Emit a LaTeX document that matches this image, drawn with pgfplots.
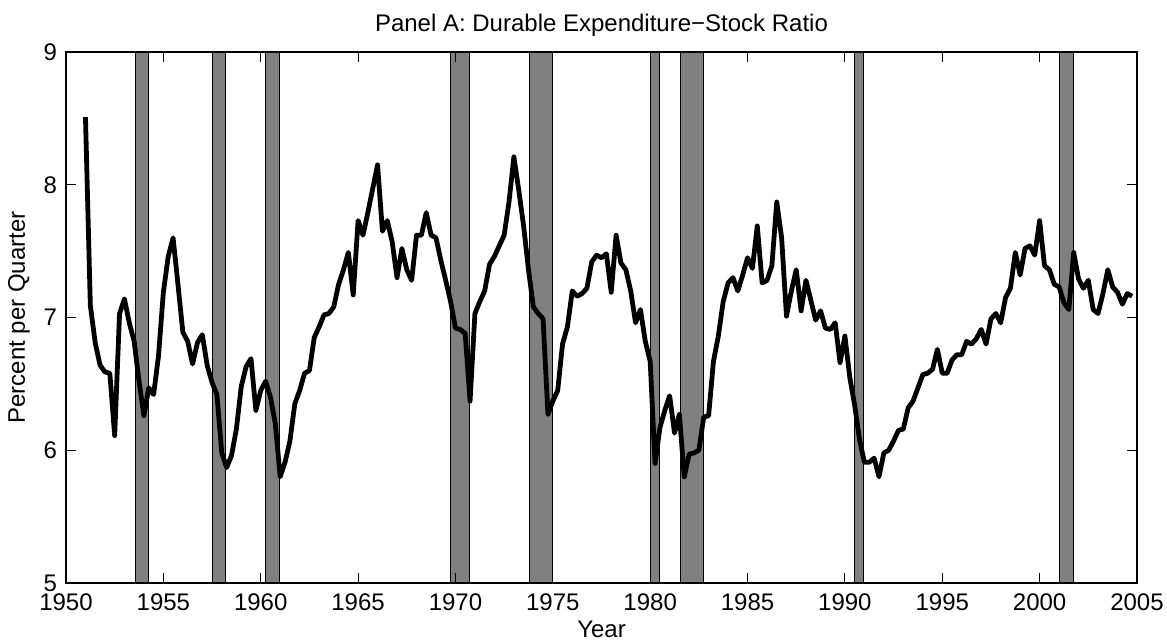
\documentclass[border=0pt]{standalone}
\usepackage{fontspec}
\setmainfont{Liberation Sans}
\usepackage{pgfplots}
\pgfplotsset{compat=1.18}
\pgfplotstableread{
year val
1951.00 8.51
1951.25 7.09
1951.50 6.81
1951.75 6.64
1952.00 6.59
1952.25 6.58
1952.50 6.11
1952.75 7.03
1953.00 7.14
1953.25 6.96
1953.50 6.82
1953.75 6.52
1954.00 6.26
1954.25 6.47
1954.50 6.42
1954.75 6.71
1955.00 7.19
1955.25 7.46
1955.50 7.60
1955.75 7.25
1956.00 6.89
1956.25 6.82
1956.50 6.65
1956.75 6.81
1957.00 6.87
1957.25 6.64
1957.50 6.51
1957.75 6.42
1958.00 5.98
1958.25 5.87
1958.50 5.96
1958.75 6.16
1959.00 6.48
1959.25 6.63
1959.50 6.69
1959.75 6.30
1960.00 6.45
1960.25 6.52
1960.50 6.40
1960.75 6.20
1961.00 5.80
1961.25 5.91
1961.50 6.07
1961.75 6.35
1962.00 6.45
1962.25 6.58
1962.50 6.60
1962.75 6.85
1963.00 6.93
1963.25 7.02
1963.50 7.03
1963.75 7.08
1964.00 7.25
1964.25 7.36
1964.50 7.49
1964.75 7.17
1965.00 7.73
1965.25 7.62
1965.50 7.79
1965.75 7.97
1966.00 8.15
1966.25 7.65
1966.50 7.73
1966.75 7.57
1967.00 7.30
1967.25 7.52
1967.50 7.36
1967.75 7.28
1968.00 7.62
1968.25 7.62
1968.50 7.79
1968.75 7.62
1969.00 7.60
1969.25 7.43
1969.50 7.28
1969.75 7.12
1970.00 6.92
1970.25 6.91
1970.50 6.88
1970.75 6.37
1971.00 7.03
1971.25 7.12
1971.50 7.20
1971.75 7.40
1972.00 7.46
1972.25 7.54
1972.50 7.62
1972.75 7.87
1973.00 8.21
1973.25 7.96
1973.50 7.69
1973.75 7.36
1974.00 7.08
1974.25 7.03
1974.50 6.99
1974.75 6.27
1975.00 6.37
1975.25 6.45
1975.50 6.80
1975.75 6.93
1976.00 7.20
1976.25 7.16
1976.50 7.18
1976.75 7.22
1977.00 7.42
1977.25 7.47
1977.50 7.45
1977.75 7.48
1978.00 7.19
1978.25 7.62
1978.50 7.41
1978.75 7.36
1979.00 7.20
1979.25 6.96
1979.50 7.06
1979.75 6.82
1980.00 6.67
1980.25 5.90
1980.50 6.17
1980.75 6.30
1981.00 6.41
1981.25 6.13
1981.50 6.27
1981.75 5.80
1982.00 5.97
1982.25 5.98
1982.50 6.00
1982.75 6.25
1983.00 6.26
1983.25 6.67
1983.50 6.86
1983.75 7.12
1984.00 7.26
1984.25 7.30
1984.50 7.20
1984.75 7.32
1985.00 7.45
1985.25 7.37
1985.50 7.69
1985.75 7.26
1986.00 7.28
1986.25 7.39
1986.50 7.87
1986.75 7.60
1987.00 7.01
1987.25 7.20
1987.50 7.36
1987.75 7.05
1988.00 7.28
1988.25 7.13
1988.50 6.98
1988.75 7.05
1989.00 6.92
1989.25 6.91
1989.50 6.96
1989.75 6.66
1990.00 6.86
1990.25 6.55
1990.50 6.34
1990.75 6.08
1991.00 5.91
1991.25 5.91
1991.50 5.94
1991.75 5.80
1992.00 5.98
1992.25 6.00
1992.50 6.07
1992.75 6.15
1993.00 6.16
1993.25 6.32
1993.50 6.37
1993.75 6.47
1994.00 6.57
1994.25 6.58
1994.50 6.61
1994.75 6.76
1995.00 6.58
1995.25 6.58
1995.50 6.68
1995.75 6.72
1996.00 6.72
1996.25 6.82
1996.50 6.80
1996.75 6.84
1997.00 6.91
1997.25 6.80
1997.50 6.99
1997.75 7.03
1998.00 6.96
1998.25 7.15
1998.50 7.22
1998.75 7.49
1999.00 7.32
1999.25 7.52
1999.50 7.54
1999.75 7.47
2000.00 7.73
2000.25 7.39
2000.50 7.36
2000.75 7.25
2001.00 7.23
2001.25 7.11
2001.50 7.06
2001.75 7.49
2002.00 7.29
2002.25 7.22
2002.50 7.28
2002.75 7.06
2003.00 7.03
2003.25 7.18
2003.50 7.36
2003.75 7.23
2004.00 7.19
2004.25 7.10
2004.50 7.18
2004.75 7.16
}\ratio
\begin{document}
\begin{tikzpicture}
\begin{axis}[
  scale only axis,
  width=535.5pt, height=265.5pt,
  xmin=1950, xmax=2005, ymin=5, ymax=9,
  xtick={1950,1955,...,2005},
  ytick={5,6,7,8,9},
  xticklabel style={/pgf/number format/1000 sep={}, yshift=-2pt},
  yticklabel style={xshift=-1pt},
  /pgf/number format/assume math mode=true,
  tick align=inside,
  major tick length=5pt,
  tick style={black, line width=0.5pt},
  axis line style={black, line width=0.6pt},
  axis on top,
  font=\fontsize{12}{14}\selectfont,
  title={Panel A: Durable Expenditure−Stock Ratio},
  title style={at={(0.5,1)}, anchor=south, yshift=-2pt},
  xlabel={Year},
  ylabel={Percent per Quarter},
  xlabel style={yshift=2pt},
  ylabel style={yshift=0pt},
]
\coordinate (bl) at (rel axis cs:0,0);
\coordinate (tr) at (rel axis cs:1,1);
\addplot [fill=gray, draw=black, line width=0.4pt] coordinates {(1953.54,5) (1953.54,9) (1954.22,9) (1954.22,5)} -- cycle;
\addplot [fill=gray, draw=black, line width=0.4pt] coordinates {(1957.52,5) (1957.52,9) (1958.20,9) (1958.20,5)} -- cycle;
\addplot [fill=gray, draw=black, line width=0.4pt] coordinates {(1960.26,5) (1960.26,9) (1960.97,9) (1960.97,5)} -- cycle;
\addplot [fill=gray, draw=black, line width=0.4pt] coordinates {(1969.76,5) (1969.76,9) (1970.70,9) (1970.70,5)} -- cycle;
\addplot [fill=gray, draw=black, line width=0.4pt] coordinates {(1973.78,5) (1973.78,9) (1974.97,9) (1974.97,5)} -- cycle;
\addplot [fill=gray, draw=black, line width=0.4pt] coordinates {(1980.00,5) (1980.00,9) (1980.45,9) (1980.45,5)} -- cycle;
\addplot [fill=gray, draw=black, line width=0.4pt] coordinates {(1981.54,5) (1981.54,9) (1982.72,9) (1982.72,5)} -- cycle;
\addplot [fill=gray, draw=black, line width=0.4pt] coordinates {(1990.48,5) (1990.48,9) (1990.94,9) (1990.94,5)} -- cycle;
\addplot [fill=gray, draw=black, line width=0.4pt] coordinates {(2001.03,5) (2001.03,9) (2001.71,9) (2001.71,5)} -- cycle;
\addplot [black, line width=2.4pt, line join=round, mark=none] table [x=year, y=val] {\ratio};
\end{axis}
\pgfresetboundingbox
\path[use as bounding box] ([xshift=-33pt,yshift=-29.5pt]bl) rectangle ([xshift=15pt,yshift=26pt]tr);
\end{tikzpicture}
\end{document}
